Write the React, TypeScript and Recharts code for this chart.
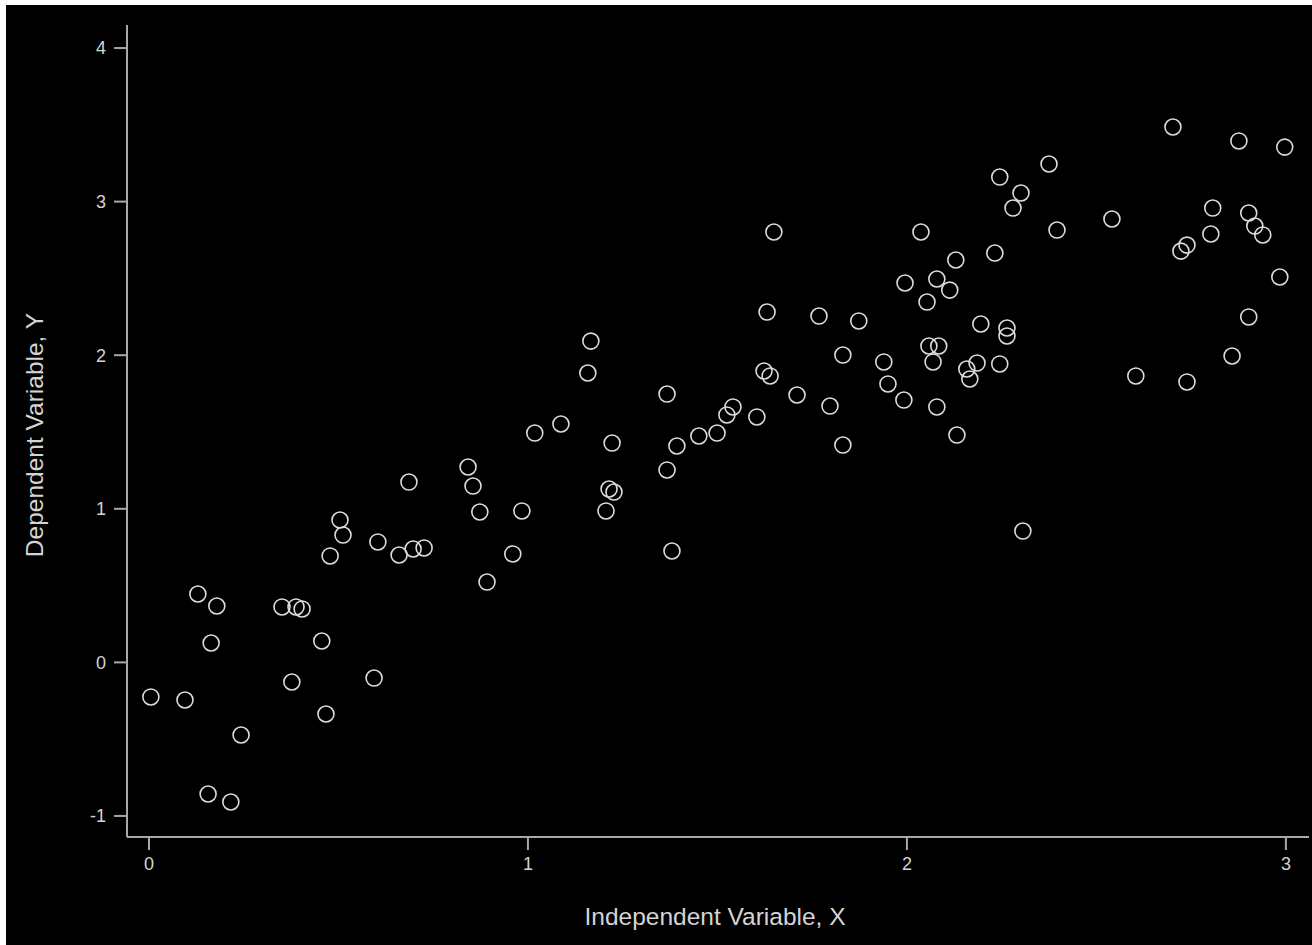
import React from 'react';
import { ScatterChart, Scatter, XAxis, YAxis } from 'recharts';

const xValues: number[] = [
  0.005, 0.095, 0.129, 0.179, 0.164, 0.156, 0.216, 0.243, 0.351, 0.388,
  0.404, 0.377, 0.456, 0.467, 0.478, 0.504, 0.512, 0.594, 0.604, 0.660,
  0.686, 0.697, 0.726, 0.842, 0.855, 0.873, 0.892, 0.960, 0.984, 1.018,
  1.087, 1.158, 1.166, 1.206, 1.214, 1.227, 1.222, 1.367, 1.367, 1.380,
  1.393, 1.451, 1.499, 1.525, 1.541, 1.604, 1.623, 1.639, 1.631, 1.649,
  1.710, 1.768, 1.797, 1.831, 1.831, 1.873, 1.939, 1.950, 1.995, 1.992,
  2.037, 2.053, 2.058, 2.069, 2.079, 2.084, 2.079, 2.113, 2.129, 2.132,
  2.158, 2.166, 2.185, 2.195, 2.232, 2.245, 2.245, 2.264, 2.264, 2.280,
  2.301, 2.306, 2.375, 2.396, 2.541, 2.604, 2.702, 2.723, 2.739, 2.739,
  2.802, 2.807, 2.858, 2.876, 2.902, 2.918, 2.902, 2.939, 2.984, 2.997,
];

const yValues: number[] = [
  -0.225, -0.245, 0.445, 0.367, 0.126, -0.857, -0.909, -0.473, 0.361, 0.361,
  0.348, -0.128, 0.139, -0.336, 0.693, 0.927, 0.829, -0.102, 0.784, 0.699,
  1.174, 0.738, 0.745, 1.272, 1.148, 0.979, 0.523, 0.706, 0.986, 1.493,
  1.552, 1.884, 2.092, 0.986, 1.129, 1.109, 1.428, 1.747, 1.253, 0.725,
  1.409, 1.474, 1.493, 1.611, 1.663, 1.598, 1.897, 1.865, 2.281, 2.802,
  1.741, 2.255, 1.669, 2.001, 1.415, 2.223, 1.956, 1.813, 2.470, 1.708,
  2.802, 2.346, 2.060, 1.956, 2.496, 2.060, 1.663, 2.424, 2.620, 1.480,
  1.910, 1.845, 1.949, 2.203, 2.665, 3.160, 1.943, 2.177, 2.125, 2.958,
  3.056, 0.855, 3.245, 2.815, 2.887, 1.865, 3.486, 2.678, 2.717, 1.826,
  2.789, 2.958, 1.995, 3.395, 2.926, 2.841, 2.249, 2.783, 2.509, 3.355,
];

const xTicks: number[] = [0, 1, 2, 3];
const yTicks: number[] = [-1, 0, 1, 2, 3, 4];

const xTitle = 'Independent Variable, X';
const yTitle = 'Dependent Variable, Y';

const points = xValues.map((x, i) => ({ x, y: yValues[i] }));

const FONT = '"Liberation Sans", Arial, Helvetica, sans-serif';
const AXIS_COLOR = '#a8a8a8';
const TEXT_COLOR = '#d4d4d4';

const Ring = (props: any) => {
  const { cx, cy } = props;
  if (cx == null || cy == null) return null;
  return <circle cx={cx} cy={cy} r={8} fill="none" stroke="#dcdcdc" strokeWidth={1.6} />;
};

const YTitle = (props: any) => {
  const vb = props.viewBox || {};
  const cx = 28;
  const cy = (vb.y ?? 20) + (vb.height ?? 812) / 2 + 4;
  return (
    <text
      x={cx}
      y={cy}
      transform={`rotate(-90, ${cx}, ${cy})`}
      textAnchor="middle"
      dominantBaseline="central"
      fill={TEXT_COLOR}
      fontSize={24.5}
      fontFamily={FONT}
    >
      {yTitle}
    </text>
  );
};

const XTitle = (props: any) => {
  const vb = props.viewBox || {};
  const cx = (vb.x ?? 121) + (vb.width ?? 1182) / 2 - 3;
  const cy = 911;
  return (
    <text
      x={cx}
      y={cy}
      textAnchor="middle"
      dominantBaseline="central"
      fill={TEXT_COLOR}
      fontSize={24.5}
      fontFamily={FONT}
    >
      {xTitle}
    </text>
  );
};

export default function App() {
  return (
    <div
      style={{
        position: 'absolute',
        left: 6,
        top: 5,
        width: 1306,
        height: 940,
        background: '#000',
      }}
    >
      <ScatterChart
        width={1306}
        height={940}
        margin={{ top: 20, right: 3, bottom: 18, left: 11 }}
        style={{ fontFamily: FONT }}
      >
        <XAxis
          type="number"
          dataKey="x"
          domain={[-0.058, 3.061]}
          allowDataOverflow
          ticks={xTicks}
          tickFormatter={(v: number) => String(v)}
          height={90}
          tickSize={13}
          tickMargin={7}
          axisLine={{ stroke: AXIS_COLOR, strokeWidth: 2 }}
          tickLine={{ stroke: AXIS_COLOR, strokeWidth: 2 }}
          tick={{ fill: TEXT_COLOR, fontSize: 18, fontFamily: FONT }}
          label={{ content: XTitle }}
        />
        <YAxis
          type="number"
          dataKey="y"
          domain={[-1.137, 4.15]}
          allowDataOverflow
          ticks={yTicks}
          tickFormatter={(v: number) => String(v)}
          width={110}
          tickSize={13}
          tickMargin={8}
          axisLine={{ stroke: AXIS_COLOR, strokeWidth: 2 }}
          tickLine={{ stroke: AXIS_COLOR, strokeWidth: 2 }}
          tick={{ fill: TEXT_COLOR, fontSize: 18, fontFamily: FONT }}
          label={{ content: YTitle }}
        />
        <Scatter data={points} shape={Ring} isAnimationActive={false} />
      </ScatterChart>
    </div>
  );
}
